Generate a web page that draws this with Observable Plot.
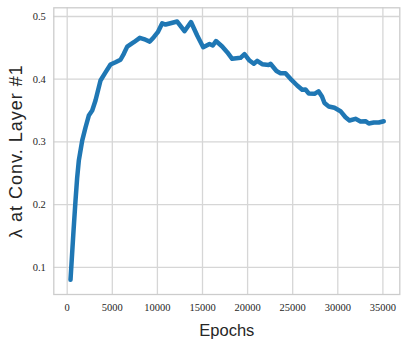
<!DOCTYPE html>
<html>
<head>
<meta charset="utf-8">
<script src="https://cdn.jsdelivr.net/npm/d3@7"></script>
<script src="https://cdn.jsdelivr.net/npm/@observablehq/plot@0.6"></script>
<style>
  html, body { margin: 0; padding: 0; background: #fff; }
  #chart svg { display: block; }
</style>
</head>
<body>
<div id="chart"></div>
<script>
const epochs = [366, 700, 920, 1100, 1286, 1663, 2029, 2395, 2772, 3137, 3692, 4246, 4800, 5354, 5908, 6275, 6652, 7383, 8048, 8680, 9157, 9600, 10044, 10532, 10898, 11452, 12195, 13004, 13724, 14412, 15077, 15775, 16141, 16496, 17183, 17738, 18292, 19212, 19656, 20210, 20687, 21063, 21618, 22349, 22538, 23203, 23646, 24200, 24755, 25498, 26052, 26418, 26784, 27416, 27860, 28247, 28525, 29001, 29633, 30298, 30853, 31296, 31961, 32516, 33070, 33436, 33990, 34544, 35098];
const lambda = [0.080, 0.158, 0.2065, 0.242, 0.270, 0.302, 0.323, 0.342, 0.350, 0.366, 0.398, 0.411, 0.4234, 0.427, 0.431, 0.4405, 0.452, 0.459, 0.466, 0.463, 0.460, 0.467, 0.475, 0.4893, 0.4872, 0.4893, 0.4920, 0.4766, 0.4912, 0.4697, 0.4510, 0.4561, 0.4537, 0.4609, 0.4522, 0.4431, 0.4325, 0.4341, 0.4399, 0.4298, 0.4246, 0.4293, 0.4239, 0.4226, 0.4246, 0.4131, 0.4096, 0.4096, 0.4006, 0.3900, 0.3831, 0.3836, 0.3772, 0.3767, 0.3807, 0.3724, 0.3620, 0.3565, 0.3544, 0.3490, 0.3394, 0.3341, 0.3368, 0.3325, 0.3330, 0.3293, 0.3309, 0.3309, 0.3330];
const xTicks = [0, 5000, 10000, 15000, 20000, 25000, 30000, 35000];
const yTicks = [0.1, 0.2, 0.3, 0.4, 0.5];
const xLabel = "Epochs";
const yLabel = "λ at Conv. Layer #1";

const data = epochs.map((e, i) => ({epoch: e, lambda: lambda[i]}));

const tickFont = "'Liberation Serif', 'DejaVu Serif', serif";
const labelFont = "'Liberation Sans', 'DejaVu Sans', sans-serif";
const gridColor = "#d6d6d6";

const chart = Plot.plot({
  width: 407,
  height: 344,
  marginLeft: 53.3,
  marginRight: 7.7,
  marginTop: 7.3,
  marginBottom: 50,
  style: {fontFamily: tickFont, fontSize: "10.5px", color: "#262626", background: "#fff"},
  x: {domain: [-1486, 36874], label: null},
  y: {domain: [0.0566, 0.5139], label: null},
  marks: [
    Plot.gridX(xTicks, {stroke: gridColor, strokeOpacity: 1, strokeWidth: 1.3}),
    Plot.gridY(yTicks, {stroke: gridColor, strokeOpacity: 1, strokeWidth: 1.3}),
    Plot.frame({stroke: "#cccccc", strokeWidth: 1.3}),
    Plot.axisX(xTicks, {tickSize: 0, tickPadding: 9, tickFormat: d => String(d), fontFamily: tickFont, fontSize: 10.5, fill: "#262626"}),
    Plot.axisY(yTicks, {tickSize: 0, tickPadding: 8, tickFormat: d => d.toFixed(1), fontFamily: tickFont, fontSize: 10.5, fill: "#262626"}),
    Plot.line(data, {x: "epoch", y: "lambda", stroke: "#1f77b4", strokeWidth: 4.5, strokeLinejoin: "round", strokeLinecap: "round", curve: "linear"}),
    Plot.text([xLabel], {frameAnchor: "bottom", dy: 36, text: d => d, fontFamily: labelFont, fontSize: 16.5, fill: "#262626", lineAnchor: "middle"}),
    Plot.text([yLabel], {frameAnchor: "left", dx: -37.3, rotate: -90, text: d => d, fontFamily: labelFont, fontSize: 18, fill: "#262626", lineAnchor: "middle", textAnchor: "middle"})
  ]
});
d3.select(chart).selectAll("text").filter(function() { return this.textContent === yLabel; }).style("letter-spacing", "1px");
document.getElementById("chart").appendChild(chart);
</script>
</body>
</html>
